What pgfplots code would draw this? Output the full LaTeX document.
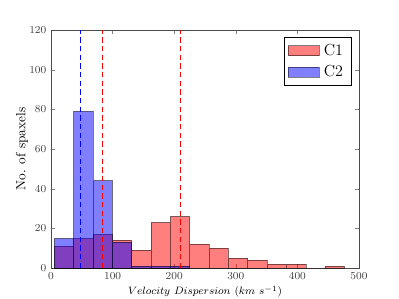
\documentclass[border=0pt]{standalone}
\usepackage{pgfplots}
\pgfplotsset{compat=1.18}
\begin{document}
\begin{tikzpicture}
\begin{axis}[
  name=ax,
  scale only axis,
  width=231pt, height=178.5pt,
  xmin=0, xmax=500, ymin=0, ymax=120,
  xtick={0,100,...,500}, ytick={0,20,...,120},
  tick align=inside, major tick length=3pt,
  xtick pos=both, ytick pos=both,
  tick label style={font=\fontsize{8}{9}\selectfont, text=black!75},
  xlabel={$Velocity\ Dispersion\ (km\ s^{-1})$},
  ylabel={No. of spaxels},
  xlabel style={font=\fontsize{8.5}{10}\selectfont, at={(axis description cs:0.5,-0.1)}, anchor=center},
  ylabel style={font=\fontsize{10}{12}\selectfont, at={(axis description cs:-0.094,0.5)}, anchor=center},
  axis line style={black!70},
  legend style={at={(rel axis cs:0.977,0.97)}, anchor=north east, draw=black, font=\fontsize{12}{14}\selectfont, row sep=4pt, inner xsep=3pt, inner ysep=4pt, nodes={inner xsep=3.5pt, inner ysep=1pt}},
  legend cell align=left,
  legend image code/.code={\draw[#1] (0pt,-3.75pt) rectangle (23pt,3.75pt);},
  clip=false,
]
\addplot[ybar interval, fill=red, fill opacity=0.5, draw=black, draw opacity=0.5] coordinates {
(5.4,11) (36.8,15) (68.2,17) (99.6,14) (131.0,9) (162.4,23) (193.8,26) (225.2,12)
(256.6,10) (288.0,5) (319.4,4) (350.8,2) (382.2,2) (413.6,0) (445.0,1) (476.4,1)};
\addlegendentry{C1}
\addplot[ybar interval, fill=blue, fill opacity=0.5, draw=black, draw opacity=0.5] coordinates {
(5.4,15) (36.8,79) (68.2,44) (99.6,13) (131.0,1) (162.4,1) (193.8,1) (225.2,1)};
\addlegendentry{C2}
\addplot[draw=blue, draw opacity=1, line width=0.5pt, dash pattern=on 4pt off 2.5pt, forget plot] coordinates {(48.2,0) (48.2,120)};
\addplot[draw=red, draw opacity=1, line width=0.5pt, dash pattern=on 4pt off 2.5pt, forget plot] coordinates {(83.3,0) (83.3,120)};
\addplot[draw=red, draw opacity=1, line width=0.5pt, dash pattern=on 4pt off 2.5pt, forget plot] coordinates {(209.2,0) (209.2,120)};
\end{axis}
\pgfresetboundingbox
\path[use as bounding box] (ax.south west) ++(-38.25pt,-23.25pt) rectangle ++(299.25pt,224.25pt);
\end{tikzpicture}
\end{document}
